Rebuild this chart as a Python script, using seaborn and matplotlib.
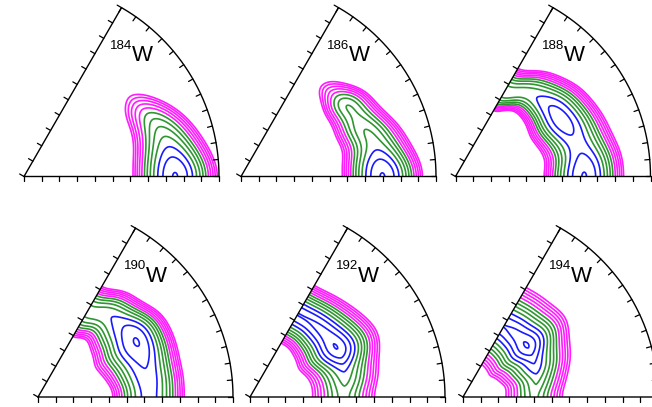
import numpy as np
import matplotlib
matplotlib.use("Agg")
import matplotlib.pyplot as plt
import seaborn as sns

sns.set_theme(style="white")
plt.rcParams['font.family'] = ['Liberation Sans', 'DejaVu Sans']

# ---------------- data ----------------
mass_numbers = ["184", "186", "188", "190", "192", "194"]
element = "W"
gamma_knots = [0, 7.5, 15, 22.5, 30, 37.5, 45, 52.5, 60]   # degrees
width_knots = [0, 30, 60]                                   # degrees

# energy along the valley floor (in units of one contour step)
valley_energy_184 = [0.95, 2.0, 3.8, 5.6, 8.2, 12.3, 17.0, 22.0, 25.0]
valley_energy_186 = [0.95, 2.1, 3.6, 4.2, 4.85, 5.9, 9.8, 16.0, 22.0]
valley_energy_188 = [0.95, 1.6, 2.3, 1.7, 1.45, 2.1, 3.1, 3.4, 3.3]
valley_energy_190 = [2.5, 2.3, 2.0, 1.35, 0.95, 1.7, 2.8, 3.3, 3.5]
valley_energy_192 = [4.5, 3.9, 3.0, 1.2, 0.0, 0.4, 0.7, 0.9, 0.95]
valley_energy_194 = [4.6, 4.2, 3.4, 2.3, 1.3, 0.0, 0.3, 0.7, 0.95]

# beta of the valley floor (fraction of the axis length)
valley_beta_184 = [0.775, 0.765, 0.75, 0.73, 0.70, 0.68, 0.67, 0.66, 0.66]
valley_beta_186 = [0.725, 0.715, 0.70, 0.675, 0.66, 0.645, 0.63, 0.61, 0.59]
valley_beta_188 = [0.66, 0.66, 0.645, 0.625, 0.61, 0.60, 0.58, 0.54, 0.50]
valley_beta_190 = [0.57, 0.57, 0.57, 0.575, 0.58, 0.575, 0.56, 0.54, 0.51]
valley_beta_192 = [0.48, 0.49, 0.50, 0.51, 0.51, 0.505, 0.50, 0.495, 0.49]
valley_beta_194 = [0.365, 0.375, 0.39, 0.40, 0.41, 0.42, 0.42, 0.42, 0.42]

# valley wall softness on the inner / outer side at gamma = 0, 30, 60
wall_in_184 = [0.061, 0.046, 0.040]
wall_out_184 = [0.061, 0.046, 0.040]
wall_in_186 = [0.058, 0.045, 0.035]
wall_out_186 = [0.058, 0.045, 0.035]
wall_in_188 = [0.058, 0.050, 0.035]
wall_out_188 = [0.057, 0.055, 0.045]
wall_in_190 = [0.057, 0.069, 0.049]
wall_out_190 = [0.055, 0.052, 0.047]
wall_in_192 = [0.045, 0.0465, 0.038]
wall_out_192 = [0.045, 0.0465, 0.038]
wall_in_194 = [0.038, 0.045, 0.046]
wall_out_194 = [0.038, 0.045, 0.046]
wall_power = [1.9, 1.9, 1.9, 1.9, 1.6, 1.5]

blue_levels = [0.05, 1, 2, 3]
green_levels = [4, 5, 6, 7]
magenta_levels = [8, 9, 10, 11, 12]

# panel placement (origin in pixels, radius in pixels)
panel_origin = [(24, 176.5), (241, 176.5), (455.5, 176.5),
                (38, 397), (250, 397), (463, 397)]
panel_radius = 195

energies = [valley_energy_184, valley_energy_186, valley_energy_188,
            valley_energy_190, valley_energy_192, valley_energy_194]
betas = [valley_beta_184, valley_beta_186, valley_beta_188,
         valley_beta_190, valley_beta_192, valley_beta_194]
walls_in = [wall_in_184, wall_in_186, wall_in_188,
            wall_in_190, wall_in_192, wall_in_194]
walls_out = [wall_out_184, wall_out_186, wall_out_188,
             wall_out_190, wall_out_192, wall_out_194]

W_PX, H_PX = 652, 407
fig = plt.figure(figsize=(W_PX / 100, H_PX / 100), dpi=100)
fig.patch.set_facecolor("white")


def cos3_series(knots, values, g):
    k = np.radians(np.asarray(knots, float)) * 3
    n = np.arange(len(knots))
    A = np.cos(np.outer(k, n))
    coef = np.linalg.solve(A, np.asarray(values, float))
    return np.cos(np.outer(np.radians(g) * 3, n)) @ coef


beta_grid = np.linspace(0.0, 1.0, 450)
gamma_grid = np.linspace(0.0, 60.0, 360)
BB, GG = np.meshgrid(beta_grid, gamma_grid)
X = BB * np.cos(np.radians(GG))
Y = BB * np.sin(np.radians(GG))

tick_len = 5.0 / panel_radius
s3 = np.sqrt(3) / 2

for i in range(6):
    ox, oy = panel_origin[i]
    ax = fig.add_axes([ox / W_PX, (H_PX - oy) / H_PX,
                       panel_radius / W_PX, panel_radius * s3 / H_PX])
    ax.set_xlim(0, 1)
    ax.set_ylim(0, s3)
    ax.axis("off")

    G = cos3_series(gamma_knots, energies[i], gamma_grid)[:, None]
    B = cos3_series(gamma_knots, betas[i], gamma_grid)[:, None]
    s_in = cos3_series(width_knots, walls_in[i], gamma_grid)[:, None]
    s_out = cos3_series(width_knots, walls_out[i], gamma_grid)[:, None]
    d = BB - B
    s = np.where(d < 0, s_in, s_out)
    V = G + (np.abs(d) / s) ** wall_power[i]

    for lv, col in [(magenta_levels, "#ff1cff"), (green_levels, "#2f9632"),
                    (blue_levels, "#1a1aff")]:
        ax.contour(X, Y, V, levels=lv, colors=col, linewidths=1.2)

    # wedge frame
    arc_g = np.linspace(0, 60, 200)
    fx = np.concatenate([[0, 1], np.cos(np.radians(arc_g)), [0]])
    fy = np.concatenate([[0, 0], np.sin(np.radians(arc_g)), [0]])
    sns.lineplot(x=fx, y=fy, sort=False, estimator=None, color="black",
                 linewidth=1.0, ax=ax, clip_on=False)

    # ticks on the gamma = 0 axis (pointing down)
    for b in np.linspace(0, 1, 12):
        ax.plot([b, b], [0, -tick_len], color="black", lw=0.9, clip_on=False)
    # ticks on the gamma = 60 axis (pointing outward)
    nx, ny = -s3, 0.5
    for b in np.linspace(0, 1, 12):
        px, py = b * 0.5, b * s3
        ax.plot([px, px + nx * tick_len], [py, py + ny * tick_len],
                color="black", lw=0.9, clip_on=False)
    # ticks on the arc (pointing inward)
    for g in np.arange(0, 61, 5):
        c, sn = np.cos(np.radians(g)), np.sin(np.radians(g))
        ax.plot([c, (1 - tick_len) * c], [sn, (1 - tick_len) * sn],
                color="black", lw=0.9, clip_on=False)

    ax.text(0.555, 0.59, element, fontsize=16, ha="left", va="baseline",
            color="black")
    ax.text(0.555, 0.655, mass_numbers[i], fontsize=9.5, ha="right",
            va="baseline", color="black")

fig.savefig("out.png", dpi=100, facecolor="white")
